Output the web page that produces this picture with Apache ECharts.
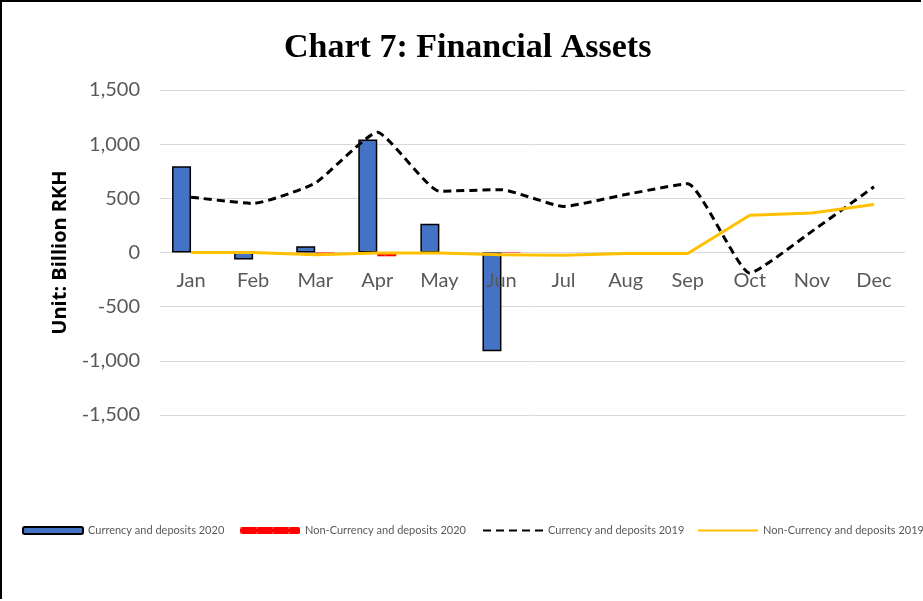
<!DOCTYPE html>
<html>
<head>
<meta charset="utf-8">
<script src="https://cdn.jsdelivr.net/npm/echarts@6/dist/echarts.min.js"></script>
<style>
html,body{margin:0;padding:0;background:#fff;}
#frame{position:absolute;left:0;top:0;width:921px;height:599px;border-left:2px solid #000;border-top:2px solid #000;box-sizing:border-box;}
#chart{position:absolute;left:0;top:0;width:923px;height:601px;}
</style>
</head>
<body>
<div id="chart"></div>
<div id="frame" style="pointer-events:none"></div>
<script>
var categories = ['Jan','Feb','Mar','Apr','May','Jun','Jul','Aug','Sep','Oct','Nov','Dec'];
var currency2020 = [797, -65, 58, 1043, 265, -911, null, null, null, null, null, null];
var nonCurrency2020 = [0, 0, -15, -35, 0, 5, null, null, null, null, null, null];
var currency2019 = [511, 452, 640, 1110, 566, 580, 425, 535, 635, -190, 195, 607];
var nonCurrency2019 = [0, 0, -20, -5, -5, -20, -25, -10, -10, 344, 365, 443];
var yTicks = [-1500, -1000, -500, 0, 500, 1000, 1500];
var seriesNames = ['Currency and deposits 2020','Non-Currency and deposits 2020','Currency and deposits 2019','Non-Currency and deposits 2019'];

var chart = echarts.init(document.getElementById('chart'));
var legendFont = {fontFamily:'Lato', fontSize:11, color:'#595959'};
var redDecal = {symbol:'rect', color:'#ffffff', symbolSize:0.5, dashArrayX:[2,14], dashArrayY:[2,3]};
function legend(name, left, isLine, extraStyle){
  var l = {data:[name], left:left, top:525, padding:0, itemWidth:60, itemHeight:7, itemGap:6, textStyle:legendFont, selectedMode:false};
  if (isLine) l.itemStyle = {opacity:0};
  if (extraStyle) l.itemStyle = extraStyle;
  return l;
}
chart.setOption({
  animation:false,
  title:{text:'Chart 7: Financial Assets', left:279, top:26,
    textStyle:{fontFamily:'Liberation Serif', fontWeight:'bold', fontSize:34, color:'#000'}},
  legend:[legend(seriesNames[0],22,false), legend(seriesNames[1],240,false,{decal:redDecal}), legend(seriesNames[2],482,true), legend(seriesNames[3],697,true)],
  grid:{left:160, right:18, top:90, bottom:186},
  xAxis:{type:'category', data:categories, offset:-162, z:5,
    axisLine:{show:false},
    axisTick:{show:false},
    axisLabel:{fontFamily:'Lato', fontSize:20, color:'#595959', margin:18}},
  yAxis:{type:'value', min:yTicks[0], max:yTicks[yTicks.length-1], interval:500,
    name:'Unit: Billion RKH', nameLocation:'middle', nameGap:90,
    nameTextStyle:{fontFamily:'Open Sans', fontWeight:'bold', fontSize:20, color:'#000'},
    axisLine:{show:false}, axisTick:{show:false},
    axisLabel:{fontFamily:'Lato', fontSize:20, color:'#595959', margin:20,
      formatter:function(v){return v.toLocaleString('en-US');}},
    splitLine:{lineStyle:{color:'#d9d9d9', width:1}}},
  series:[
    {name:seriesNames[0], type:'bar', data:currency2020, barWidth:19, barGap:'0%', z:2,
      itemStyle:{color:'#4472C4', borderColor:'#000', borderWidth:1.5}},
    {name:seriesNames[1], type:'bar', data:nonCurrency2020, barWidth:19, z:2,
      itemStyle:{color:'#FF0000', decal:redDecal}},
    {name:seriesNames[2], type:'line', data:currency2019, symbol:'none', smooth:0.15, z:3,
      lineStyle:{color:'#000', width:3, type:[8,5]}, itemStyle:{color:'#000'}},
    {name:seriesNames[3], type:'line', data:nonCurrency2019, symbol:'none', z:4,
      lineStyle:{color:'#FFC000', width:3}, itemStyle:{color:'#FFC000'}}
  ]
});
</script>
</body>
</html>
